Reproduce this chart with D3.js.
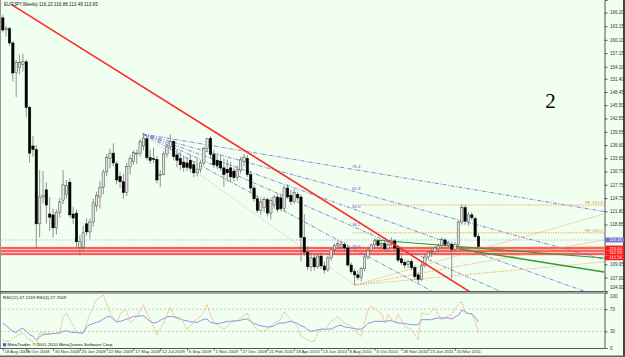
<!DOCTYPE html>
<html>
<head>
<meta charset="utf-8">
<script src="https://cdn.jsdelivr.net/npm/d3@7"></script>
<style>
  body { margin: 0; background: #f0fff0; overflow: hidden; }
  svg text { font-family: "Liberation Sans", Arial, sans-serif; }
</style>
</head>
<body>
<div id="container"></div>
<script>
let w = 625;
let h = 357;

// weekly EURJPY candles, first bar = week of 18 Aug 2008
let opens = [165.0,162.3,162.6,159.4,152.8,153.9,154.6,155.2,145.0,136.4,
  135.6,119.0,125.0,126.6,121.2,121.0,118.1,121.6,124.3,125.6,
  128.3,121.2,121.4,113.7,113.8,119.0,117.2,119.4,123.0,125.0,
  127.2,130.6,133.6,134.8,132.4,129.6,128.4,126.0,131.8,133.0,
  134.6,134.8,136.4,138.0,133.8,133.6,133.4,129.8,130.0,134.6,
  136.2,137.4,134.4,133.6,132.8,132.6,133.2,132.2,130.4,131.2,
  132.6,135.8,138.1,134.5,133.2,133.0,131.5,131.2,131.5,130.8,
  129.3,131.0,133.0,133.6,130.0,127.0,124.6,122.0,122.6,124.4,
  121.4,123.2,125.0,124.8,122.4,127.0,125.4,124.0,125.6,125.0,
  116.0,112.7,109.4,111.4,109.4,111.8,109.6,108.7,111.4,113.2,
  114.2,113.8,114.4,113.6,109.8,108.3,107.6,107.0,109.0,111.6,
  113.0,114.3,115.2,114.2,114.6,113.4,114.4,115.2,113.6,111.2,
  110.4,109.9,110.6,109.2,107.6,106.6,109.8,111.6,112.6,112.8,
  113.4,114.1,115.4,114.2,114.4,113.3,114.4,119.4,122.6,119.6,
  121.0,120.2,116.22];
let highs = [165.6,163.2,163.0,159.8,155.6,156.8,157.0,155.6,145.4,138.6,
  136.6,131.0,130.8,128.3,125.0,122.4,122.2,124.8,131.0,128.8,
  129.2,122.8,122.2,116.4,118.6,120.2,120.2,124.6,126.2,128.6,
  131.2,134.6,135.8,137.0,133.0,130.6,130.2,132.6,134.4,135.4,
  135.6,138.0,139.1,138.7,135.6,136.0,134.2,131.0,135.2,136.8,
  139.0,137.8,135.6,135.0,134.2,133.8,134.4,133.0,133.6,133.2,
  136.2,138.2,138.6,135.6,134.8,134.5,133.6,133.4,132.8,131.5,
  132.0,134.0,134.6,134.4,130.8,127.6,125.2,124.6,125.0,124.9,
  124.8,125.4,125.6,125.8,127.6,127.8,126.6,126.8,126.2,125.6,
  121.2,114.0,112.6,112.2,112.4,112.6,110.6,111.8,113.6,114.6,
  115.3,115.2,114.9,114.2,110.4,109.0,108.6,109.4,112.2,113.6,
  114.6,115.8,115.6,115.0,115.2,115.0,116.0,115.6,114.2,112.0,
  111.0,111.0,111.2,109.8,108.2,110.4,112.4,113.0,113.4,114.0,
  114.6,116.0,115.8,115.2,115.0,115.0,119.8,123.3,123.2,121.6,
  121.6,120.6,116.88];
let lows = [161.8,160.8,158.8,150.8,147.3,152.4,153.0,142.8,132.6,134.0,
  113.6,116.0,123.6,119.0,117.4,116.0,116.6,120.4,123.4,124.6,
  120.4,119.0,113.6,112.0,112.8,116.4,115.6,118.4,121.8,122.4,
  125.6,129.6,131.4,131.8,127.8,127.0,124.6,125.2,130.0,132.2,
  132.4,134.0,135.4,133.2,132.4,132.6,128.0,127.2,129.8,133.8,
  135.4,133.2,131.6,131.0,130.6,130.8,130.4,129.4,129.6,130.4,
  132.0,135.2,133.5,131.5,131.2,130.8,127.2,128.5,128.2,128.4,
  128.6,130.2,131.8,129.5,126.2,124.0,121.4,121.0,121.6,120.6,
  120.0,122.4,121.6,121.8,121.8,124.6,123.2,123.4,124.2,110.6,
  111.9,108.6,108.4,108.6,109.0,108.9,107.9,108.3,110.8,112.4,
  113.0,113.0,112.8,109.4,107.8,105.34,106.4,106.2,108.4,111.0,
  112.6,113.6,113.6,113.2,112.8,112.8,114.0,113.0,110.4,109.8,
  109.0,109.2,108.6,106.6,105.8,106.2,109.2,111.0,111.6,112.2,
  112.6,113.6,113.8,113.6,106.6,112.8,113.8,118.8,118.8,118.6,
  119.8,115.8,113.49];
let closes = [162.3,162.6,159.4,152.7,155.0,155.0,155.2,145.0,134.8,135.6,
  119.0,125.0,125.4,123.2,120.5,118.1,121.6,123.9,127.7,127.6,
  121.0,120.3,115.0,115.0,117.0,117.2,119.4,123.7,125.4,127.2,
  130.6,133.8,134.8,132.6,128.8,128.4,126.0,131.8,133.6,134.9,
  134.8,137.4,138.2,133.8,133.2,133.4,128.8,130.0,134.6,136.2,
  137.4,134.0,133.2,132.2,131.6,131.6,131.4,130.4,131.2,132.6,
  135.8,138.0,134.5,132.2,132.0,131.5,130.0,130.4,129.5,129.3,
  131.2,133.3,133.9,130.0,127.0,124.6,122.0,123.9,124.4,121.4,
  124.2,125.0,122.2,122.4,127.0,125.0,124.0,126.0,124.8,116.0,
  112.7,109.4,111.4,109.4,111.8,109.6,108.7,111.4,113.2,114.2,
  114.6,114.4,113.6,109.8,108.3,107.6,107.0,109.0,111.6,113.0,
  114.3,115.2,114.2,114.6,113.4,114.4,115.2,113.6,110.9,110.3,
  109.8,110.6,109.2,107.2,106.6,109.8,111.6,112.6,112.8,113.6,
  114.1,115.5,114.4,114.7,113.3,114.4,119.4,122.6,119.6,121.0,
  120.4,116.2,113.95];

// RSI(12) and RSI(4)
let rsi12 = [45,40,35,30,28,33,36,30,24,21,
  15,20,24,25,25,26,27,27,30,31,
  29,28,28,27,27,38,42,44,46,48,
  52,56,57,52,48,48,50,52,54,57,
  57,58,58,53,48,45,46,50,53,56,
  57,56,55,52,50,49,47,47,46,49,
  52,52,46,45,44,45,46,48,48,49,
  49,50,52,52,48,44,42,40,39,38,
  38,40,44,45,45,47,48,46,44,40,
  38,33,30,31,33,33,34,34,34,37,
  40,41,38,37,36,35,34,34,38,44,
  46,48,48,48,48,49,49,47,45,45,
  44,43,42,42,42,51,51,51,51,53,
  54,54,54,54,52,56,59,68,66,62,
  62,55,47.2243];
let rsi4 = [15,12,12,18,21,25,27,20,15,12,
  5,27,27,27,27,26,26,28,57,63,
  51,40,28,27,27,45,60,75,87,92,
  95,80,63,55,45,60,69,66,45,50,
  57,68,78,63,50,39,24,35,45,60,
  73,60,52,55,45,33,40,48,52,57,
  65,78,60,45,42,38,33,40,45,48,
  50,54,58,63,48,39,34,30,31,33,
  40,45,48,52,66,58,51,45,39,21,
  18,15,12,12,27,36,33,40,48,52,
  57,50,45,42,39,33,27,21,45,69,
  75,72,66,63,45,60,52,45,60,50,
  39,36,33,24,15,63,62,60,66,72,
  60,51,55,57,60,70,78,84,63,62,
  60,48,27.7009];

// the 112.90 and 115.90 labels sit under the line boxes, so they are left out
let priceTicks = [104.00,107.00,109.95,118.85,121.80,124.75,127.75,130.70,
  133.65,136.60,139.55,142.55,145.50,148.45,151.40,154.10,157.15,160.10,163.15,166.20];
let rsiTicks = [0, 30, 70, 100];
let dateIdx = [0,7,15,23,31,39,47,55,63,71,79,87,95,103,111,119,127,135];
let dateLabels = ['18 Aug 2008','5 Oct 2008','30 Nov 2008','25 Jan 2009','22 Mar 2009','17 May 2009',
  '12 Jul 2009','6 Sep 2009','1 Nov 2009','27 Dec 2009','21 Feb 2010','18 Apr 2010','13 Jun 2010',
  '8 Aug 2010','3 Oct 2010','28 Nov 2010','23 Jan 2011','20 Mar 2011'];

// chart objects (bar index, price)
let trendLine = [[2.75, 167.9], [138.6, 104.2]];
let fanHigh = [41.8, 139.07];
let fanLow = [105.1, 105.34];
let fanLevels = [23.6, 38.2, 50.0, 61.8, 76.4];
let feLevels = ['61.8', '100.0', '161.8'];
let fePrices = [113.2, 117.0, 123.2];
let feStart = 104.5;
let orangeFanEnds = [121.2, 115.4, 110.5];
let greenLines = [[[111, 115.4], [179.5, 111.37]], [[136, 113.4], [179.5, 108.24]]];
let redLevels = [113.60, 112.93, 112.26];
let blueLevel = 115.40;
let chartText = [161.9, 144.9, '2'];

let plotRight = 604;
let mainBottom = 291;

let viz = d3.select('#container')
  .append('svg')
    .attr('width', w)
    .attr('height', h)
    .style('background-color', '#f0fff0')
    .style('display', 'block');

let xScale = d3.scaleLinear().domain([0, 142]).range([2.8, 2.8 + 142 * 3.35]);
let yScale = d3.scaleLinear().domain([104, 169]).range([mainBottom, 0]);
let rsiScale = d3.scaleLinear().domain([0, 100]).range([348, 292.5]);
let lastIdx = xScale.invert(plotRight);

let defs = viz.append('defs');
defs.append('clipPath').attr('id', 'mainClip')
  .append('rect').attr('x', 0).attr('y', 0).attr('width', plotRight).attr('height', mainBottom);
defs.append('clipPath').attr('id', 'rsiClip')
  .append('rect').attr('x', 0).attr('y', 293).attr('width', plotRight).attr('height', 55);

let main = viz.append('g').attr('clip-path', 'url(#mainClip)');

function seg(g, a, b, color, width, dash){
  return g.append('line')
    .attr('x1', xScale(a[0])).attr('y1', yScale(a[1]))
    .attr('x2', xScale(b[0])).attr('y2', yScale(b[1]))
    .attr('stroke', color).attr('stroke-width', width)
    .attr('stroke-dasharray', dash || null);
}
// point on the line a-b at bar index i
function along(a, b, i){
  return [i, a[1] + (b[1] - a[1]) * (i - a[0]) / (b[0] - a[0])];
}

// horizontal dotted blue line
seg(main, [-2, blueLevel], [lastIdx, blueLevel], '#8c8ce0', 0.8, '1,2');

// red horizontal zone
main.append('rect')
  .attr('x', 0).attr('width', plotRight)
  .attr('y', yScale(redLevels[0]) - 1.5)
  .attr('height', yScale(redLevels[2]) - yScale(redLevels[0]) + 3)
  .attr('fill', '#f6c8c2');
redLevels.forEach(function(p){
  seg(main, [-2, p], [lastIdx, p], '#ff3a3a', 1.3);
});

// fibonacci fan from the 2009 high to the 2010 low
seg(main, fanHigh, fanLow, '#a8a8a8', 0.8, '1,1.5');
fanLevels.forEach(function(l){
  let p = fanLow[1] + (fanHigh[1] - fanLow[1]) * l / 100;
  let end = along(fanHigh, [fanLow[0], p], lastIdx);
  seg(main, fanHigh, end, '#6a6ad6', 0.8, '4,1.5,1,1.5');
  main.append('text')
    .attr('x', xScale(fanLow[0]) - 3).attr('y', yScale(p) - 1.3)
    .attr('font-size', 4.4).attr('fill', '#5a5ac8')
    .text(l.toFixed(1));
});

// fibo expansion levels
fePrices.forEach(function(p, i){
  seg(main, [feStart, p], [lastIdx, p], '#f2a55e', 0.9, '1.5,1');
  main.append('text')
    .attr('x', plotRight - 1).attr('y', yScale(p) - 1.2)
    .attr('text-anchor', 'end')
    .attr('font-size', 4.4).attr('fill', '#e8904a')
    .text('FE ' + feLevels[i]);
});

// orange dotted fan from the 2010 low
orangeFanEnds.forEach(function(p){
  seg(main, fanLow, [lastIdx, p], '#f2a060', 0.8, '1.5,1.2');
});

// green trend lines
greenLines.forEach(function(l, i){
  seg(main, l[0], l[1], '#2e9a2e', i == 0 ? 1 : 1.3);
});

// candles
let idx = d3.range(opens.length);
main.selectAll('line.wick').data(idx).enter().append('line')
  .attr('class', 'wick')
  .attr('x1', function(i){ return xScale(i); })
  .attr('x2', function(i){ return xScale(i); })
  .attr('y1', function(i){ return yScale(highs[i]); })
  .attr('y2', function(i){ return yScale(lows[i]); })
  .attr('stroke', '#777').attr('stroke-width', 0.8);

main.selectAll('rect.body').data(idx).enter().append('rect')
  .attr('class', 'body')
  .attr('x', function(i){ return xScale(i) - 1.2; })
  .attr('width', 2.4)
  .attr('y', function(i){ return yScale(Math.max(opens[i], closes[i])); })
  .attr('height', function(i){ return Math.max(0.8, Math.abs(yScale(opens[i]) - yScale(closes[i]))); })
  .attr('fill', function(i){ return closes[i] >= opens[i] ? '#e2e2e2' : '#000'; })
  .attr('stroke', function(i){ return closes[i] >= opens[i] ? '#444' : '#000'; })
  .attr('stroke-width', 0.5);

// big red trend line drawn over the candles
seg(main, trendLine[0], along(trendLine[0], trendLine[1], 160), '#ff2a2a', 1.6);

// text object on the chart
main.append('text')
  .attr('x', xScale(chartText[0])).attr('y', yScale(chartText[1]))
  .style('font-family', '"Liberation Serif", "Times New Roman", serif')
  .attr('font-size', 21).attr('fill', '#000')
  .text(chartText[2]);

// header
let f2 = d3.format('.2f');
let n = opens.length - 1;
viz.append('text').attr('x', 4).attr('y', 6.3).attr('font-size', 4.6).attr('fill', '#222')
  .text('EURJPY,Weekly  ' + [opens[n], highs[n], lows[n], closes[n]].map(f2).join(' '));

// RSI panel
let rsi = viz.append('g').attr('clip-path', 'url(#rsiClip)');
[30, 70].forEach(function(v){
  rsi.append('line')
    .attr('x1', 0).attr('x2', plotRight)
    .attr('y1', rsiScale(v)).attr('y2', rsiScale(v))
    .attr('stroke', '#b4b4b4').attr('stroke-width', 0.7).attr('stroke-dasharray', '2,2');
});
let rsiLine = d3.line().x(function(d, i){ return xScale(i); }).y(function(d){ return rsiScale(d); });
rsi.append('path').datum(rsi12).attr('d', rsiLine)
  .attr('fill', 'none').attr('stroke', '#8484ec').attr('stroke-width', 0.9);
rsi.append('path').datum(rsi4).attr('d', rsiLine)
  .attr('fill', 'none').attr('stroke', '#f3a062').attr('stroke-width', 0.9).attr('stroke-dasharray', '1.5,1');

let f4 = d3.format('.4f');
viz.append('text').attr('x', 3).attr('y', 298.5).attr('font-size', 4.4).attr('fill', '#222')
  .text('RSI(12) ' + f4(rsi12[n]) + '  RSI(4) ' + f4(rsi4[n]));
viz.append('rect').attr('x', 3).attr('y', 343.2).attr('width', 3.2).attr('height', 3.2).attr('fill', '#3a6ab0');
viz.append('text').attr('x', 7.5).attr('y', 346.3).attr('font-size', 4.4).attr('fill', '#111')
  .text('MetaTrader, \u00a9 2001-2010 MetaQuotes Software Corp.');

// frames
viz.append('line').attr('x1', 0.5).attr('x2', 0.5).attr('y1', 0).attr('y2', 349).attr('stroke', '#999');
viz.append('line').attr('x1', 0).attr('x2', plotRight).attr('y1', mainBottom + 0.5).attr('y2', mainBottom + 0.5)
  .attr('stroke', '#555');
viz.append('line').attr('x1', 0).attr('x2', plotRight).attr('y1', 293).attr('y2', 293)
  .attr('stroke', '#555');
viz.append('line').attr('x1', 0).attr('x2', plotRight).attr('y1', 348.5).attr('y2', 348.5)
  .attr('stroke', '#555');
viz.append('rect').attr('x', 623).attr('y', 0).attr('width', 2).attr('height', h).attr('fill', '#444');
viz.append('rect').attr('x', 0).attr('y', 355.5).attr('width', w).attr('height', 1.5).attr('fill', '#666');

// price axis
let yAxis = d3.axisRight(yScale).tickValues(priceTicks).tickSize(3).tickPadding(2.5).tickFormat(f2);
let yAxisGroup = viz.append('g').attr('class', 'yaxis')
  .attr('transform', 'translate(' + (plotRight + 0.5) + ', 0)');
yAxisGroup.call(yAxis);

let rsiAxis = d3.axisRight(rsiScale).tickValues(rsiTicks).tickSize(3).tickPadding(2.5).tickFormat(d3.format('d'));
let rsiAxisGroup = viz.append('g').attr('class', 'rsiaxis')
  .attr('transform', 'translate(' + (plotRight + 0.5) + ', 0)');
rsiAxisGroup.call(rsiAxis);

[yAxisGroup, rsiAxisGroup].forEach(function(g){
  g.attr('font-size', 4.5).attr('font-family', null);
  g.select('.domain').attr('stroke', '#555');
  g.selectAll('.tick line').attr('stroke', '#555');
  g.selectAll('.tick text').attr('fill', '#333');
});
// keep the 104.00 and 100 labels apart where the panels meet
yAxisGroup.selectAll('.tick text').filter(function(d){ return d == 104; }).attr('dy', '-0.45em');
rsiAxisGroup.selectAll('.tick text').filter(function(d){ return d == 100; }).attr('dy', '1.0em');

// label boxes on the price axis, stacked so they do not cover each other
let boxH = 4.9;
let boxBottom = -Infinity;
function axisBox(p, color){
  let y = Math.max(yScale(p), boxBottom + boxH / 2);
  boxBottom = y + boxH / 2;
  viz.append('rect').attr('x', plotRight + 1).attr('y', y - boxH / 2)
    .attr('width', 19).attr('height', boxH).attr('fill', color);
  viz.append('text').attr('x', plotRight + 5.5).attr('y', y + 1.5)
    .attr('font-size', 4.2).attr('fill', '#fff').text(f2(p));
}
axisBox(blueLevel, '#7474cc');
redLevels.forEach(function(p){ axisBox(p, '#ff1a1a'); });

// time axis
let xAxis = d3.axisBottom(xScale).tickValues(dateIdx).tickSize(2)
  .tickFormat(function(d, i){ return dateLabels[i]; });
let xAxisGroup = viz.append('g').attr('class', 'xaxis')
  .attr('transform', 'translate(0, 348.5)');
xAxisGroup.call(xAxis);
xAxisGroup.attr('font-size', 4.4).attr('font-family', null);
xAxisGroup.select('.domain').remove();
xAxisGroup.selectAll('.tick line').attr('stroke', '#555');
xAxisGroup.selectAll('.tick text')
  .attr('text-anchor', 'start').attr('x', 1.2).attr('y', 1.8).attr('fill', '#333');
</script>
</body>
</html>
